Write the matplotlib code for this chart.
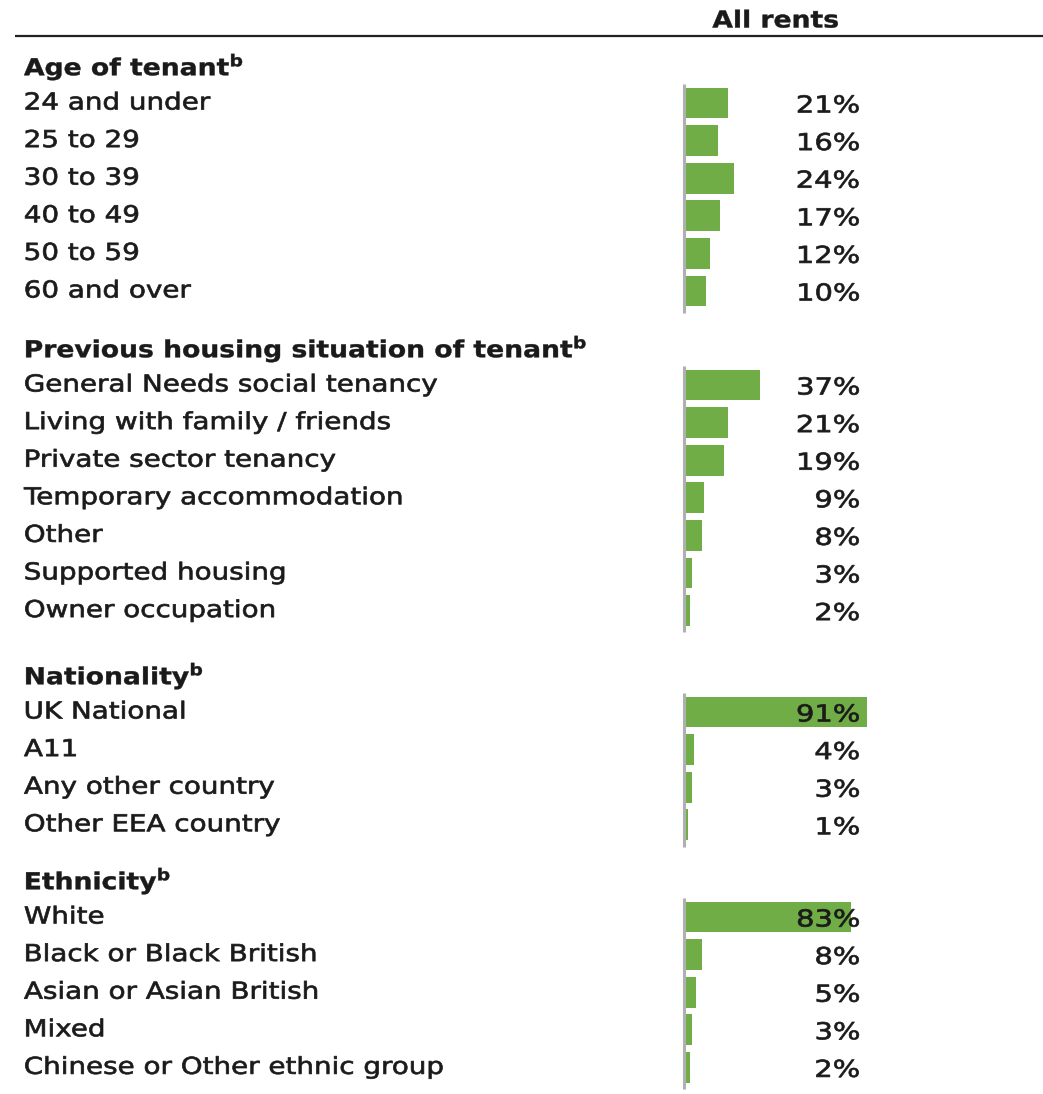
import matplotlib
matplotlib.use("Agg")
import matplotlib.pyplot as plt
from matplotlib.patheffects import AbstractPathEffect
from matplotlib.transforms import Affine2D

# ── Datos ────────────────────────────────────────────────────────────────────
age_labels = ["24 and under", "25 to 29", "30 to 39", "40 to 49", "50 to 59", "60 and over"]
age_values = [21, 16, 24, 17, 12, 10]

prev_labels = ["General Needs social tenancy", "Living with family / friends",
               "Private sector tenancy", "Temporary accommodation", "Other",
               "Supported housing", "Owner occupation"]
prev_values = [37, 21, 19, 9, 8, 3, 2]

nat_labels = ["UK National", "A11", "Any other country", "Other EEA country"]
nat_values = [91, 4, 3, 1]

eth_labels = ["White", "Black or Black British", "Asian or Asian British", "Mixed",
              "Chinese or Other ethnic group"]
eth_values = [83, 8, 5, 3, 2]

section_titles = ["Age of tenant", "Previous housing situation of tenant",
                  "Nationality", "Ethnicity"]
sections = list(zip(section_titles,
                    [age_labels, prev_labels, nat_labels, eth_labels],
                    [age_values, prev_values, nat_values, eth_values]))

# ── Layout (pixeles) ─────────────────────────────────────────────────────────
W, H = 1043, 1094
bar_x0 = 686          # origen de las barras
px_per_pct = 1.99
label_x = 24
pct_x = 860
row_h = 37.6
title_y = [67, 349, 676, 881]
first_row_gap = 36

GREEN = "#70AD47"
TXT = "#1a1a1a"
FS = 16.8

plt.rcParams["mathtext.fontset"] = "dejavusans"


class StretchX(AbstractPathEffect):
    """Ensancha el texto en horizontal (la fuente original es más ancha)
    y le da un trazo fino para que se vea algo más grueso."""

    def __init__(self, sx, anchor=0.0, stroke=0.5):
        super().__init__()
        self.sx = sx
        self.anchor = anchor
        self.stroke = stroke

    def draw_path(self, renderer, gc, tpath, affine, rgbFace=None):
        ext = tpath.get_extents()
        xa = ext.x0 + (ext.x1 - ext.x0) * self.anchor
        t = Affine2D().translate(-xa, 0).scale(self.sx, 1).translate(xa, 0) + affine
        gc0 = renderer.new_gc()
        gc0.copy_properties(gc)
        gc0.set_linewidth(self.stroke)
        if rgbFace is not None:
            gc0.set_foreground(rgbFace)
        renderer.draw_path(gc0, tpath, t, rgbFace)
        gc0.restore()


LABEL_FX = [StretchX(1.19, 0.0)]
PCT_FX = [StretchX(1.24, 1.0)]
TITLE_FX = [StretchX(1.14, 0.0, 0.3)]
HEAD_FX = [StretchX(1.14, 0.5, 0.3)]

fig = plt.figure(figsize=(W / 100, H / 100), dpi=100)
ax = fig.add_axes([0, 0, 1, 1])
ax.set_xlim(-bar_x0 / px_per_pct, (W - bar_x0) / px_per_pct)
ax.set_ylim(H, 0)
ax.axis("off")


def px(x):
    return (x - bar_x0) / px_per_pct


# cabecera
ax.text(px(776), 21, "All rents", ha="center", va="center", fontsize=FS,
        fontweight="bold", color=TXT, path_effects=HEAD_FX)
ax.plot([px(15), px(W)], [36, 36], color="#222222", lw=1.6, solid_capstyle="butt")

for (title, labels, values), ty in zip(sections, title_y):
    ax.text(px(label_x), ty, title + r"$^{\mathbf{b}}$", ha="left", va="center",
            fontsize=FS, fontweight="bold", color=TXT, path_effects=TITLE_FX)
    ys = [ty + first_row_gap + i * row_h for i in range(len(labels))]
    ax.barh(ys, values, height=row_h * 0.82, left=0, color=GREEN, zorder=1)
    for y, lab, v in zip(ys, labels, values):
        ax.text(px(label_x), y, lab, ha="left", va="center", fontsize=FS,
                color=TXT, path_effects=LABEL_FX)
        ax.text(px(pct_x), y + 3, f"{v}%", ha="right", va="center", fontsize=FS,
                color=TXT, path_effects=PCT_FX, zorder=3)
    # eje vertical gris
    ax.plot([px(684), px(684)], [ys[0] - row_h / 2, ys[-1] + row_h / 2 + 3],
            color="#b0b0b0", lw=2.2, solid_capstyle="butt")

fig.savefig("out.png", dpi=100)
